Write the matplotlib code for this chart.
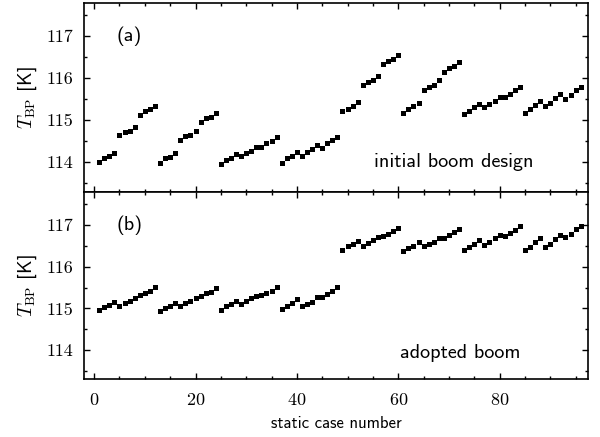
import numpy as np
import matplotlib
matplotlib.use("Agg")
import matplotlib.pyplot as plt
from matplotlib.ticker import MultipleLocator, FormatStrFormatter

# static case numbers 1..96 (8 groups of 12)
case_number = np.arange(1, 97)

# (a) initial boom design, T_BP [K]
tbp_initial = [
    114.01, 114.11, 114.15, 114.23, 114.64, 114.71, 114.75, 114.84, 115.13, 115.22, 115.26, 115.34,
    113.99, 114.10, 114.13, 114.22, 114.53, 114.62, 114.66, 114.74, 114.96, 115.05, 115.08, 115.17,
    113.97, 114.06, 114.11, 114.20, 114.14, 114.22, 114.27, 114.37, 114.37, 114.46, 114.51, 114.60,
    113.99, 114.10, 114.16, 114.25, 114.16, 114.25, 114.32, 114.42, 114.35, 114.45, 114.53, 114.60,
    115.21, 115.26, 115.34, 115.44, 115.84, 115.92, 115.97, 116.06, 116.33, 116.41, 116.46, 116.56,
    115.18, 115.26, 115.33, 115.42, 115.73, 115.79, 115.84, 115.95, 116.16, 116.24, 116.29, 116.38,
    115.14, 115.22, 115.31, 115.39, 115.31, 115.39, 115.47, 115.56, 115.55, 115.63, 115.71, 115.79,
    115.17, 115.26, 115.37, 115.47, 115.33, 115.41, 115.52, 115.62, 115.50, 115.60, 115.71, 115.79,
]

# (b) adopted boom, T_BP [K]
tbp_adopted = [
    114.96, 115.03, 115.08, 115.16, 115.06, 115.14, 115.18, 115.26, 115.32, 115.38, 115.43, 115.51,
    114.94, 115.02, 115.06, 115.14, 115.05, 115.13, 115.18, 115.24, 115.30, 115.37, 115.40, 115.48,
    114.96, 115.05, 115.10, 115.18, 115.10, 115.18, 115.24, 115.30, 115.32, 115.38, 115.43, 115.51,
    114.98, 115.06, 115.13, 115.22, 115.05, 115.11, 115.16, 115.27, 115.28, 115.35, 115.42, 115.51,
    116.41, 116.49, 116.55, 116.62, 116.50, 116.58, 116.63, 116.71, 116.73, 116.79, 116.85, 116.94,
    116.38, 116.45, 116.50, 116.60, 116.49, 116.55, 116.60, 116.69, 116.69, 116.76, 116.84, 116.90,
    116.39, 116.48, 116.55, 116.63, 116.52, 116.60, 116.68, 116.76, 116.73, 116.81, 116.88, 116.97,
    116.39, 116.48, 116.59, 116.68, 116.47, 116.55, 116.66, 116.76, 116.71, 116.79, 116.90, 116.98,
]

panel_labels = ["(a)", "(b)"]
panel_notes = ["initial boom design", "adopted boom"]

plt.rcParams["mathtext.fontset"] = "cm"
plt.rcParams["font.family"] = "cmss10"
plt.rcParams["axes.formatter.use_mathtext"] = True

fig = plt.figure(figsize=(6.0, 4.37), dpi=100)
ax_a = fig.add_axes([0.14, 0.5613, 0.8405, 0.4325])
ax_b = fig.add_axes([0.14, 0.132, 0.8405, 0.4293], sharex=ax_a)

note_pos = [(0.734, 0.157), (0.746, 0.14)]
label_pos = [(0.065, 0.823), (0.065, 0.823)]

for ax, data, lab, note, npos, lpos in zip([ax_a, ax_b], [tbp_initial, tbp_adopted],
                                           panel_labels, panel_notes, note_pos, label_pos):
    ax.plot(case_number, data, ls="none", marker="s", ms=3.6, color="black", mew=0)
    ax.set_xlim(-2, 97.5)
    ax.set_ylim(113.3, 117.8)
    ax.xaxis.set_major_locator(MultipleLocator(20))
    ax.xaxis.set_minor_locator(MultipleLocator(5))
    ax.yaxis.set_major_locator(MultipleLocator(1))
    ax.yaxis.set_minor_locator(MultipleLocator(0.5))
    ax.yaxis.set_major_formatter(FormatStrFormatter("%d"))
    ax.tick_params(which="both", direction="in", top=True, right=True, width=1.0)
    ax.tick_params(which="major", length=4.5)
    ax.tick_params(which="minor", length=2.5)
    ax.tick_params(axis="y", pad=8)
    ax.tick_params(axis="x", pad=9)
    for sp in ax.spines.values():
        sp.set_linewidth(1.2)
    ax.set_ylabel(r"$T_{\mathrm{BP}}$ [K]", fontsize=14, labelpad=5)
    ax.text(lpos[0], lpos[1], lab, transform=ax.transAxes,
            fontsize=14.5, va="center", ha="left")
    ax.text(npos[0], npos[1], note, transform=ax.transAxes, fontsize=14.5,
            va="center", ha="center")

ax_a.tick_params(axis="x", labelbottom=False)
for lbl in ax_b.get_xticklabels() + ax_b.get_yticklabels() + ax_a.get_yticklabels():
    lbl.set_family("cmr10")
    lbl.set_fontsize(13)
ax_b.set_xlabel("static case number", fontsize=12, labelpad=6)

fig.savefig("out.png", dpi=100)
